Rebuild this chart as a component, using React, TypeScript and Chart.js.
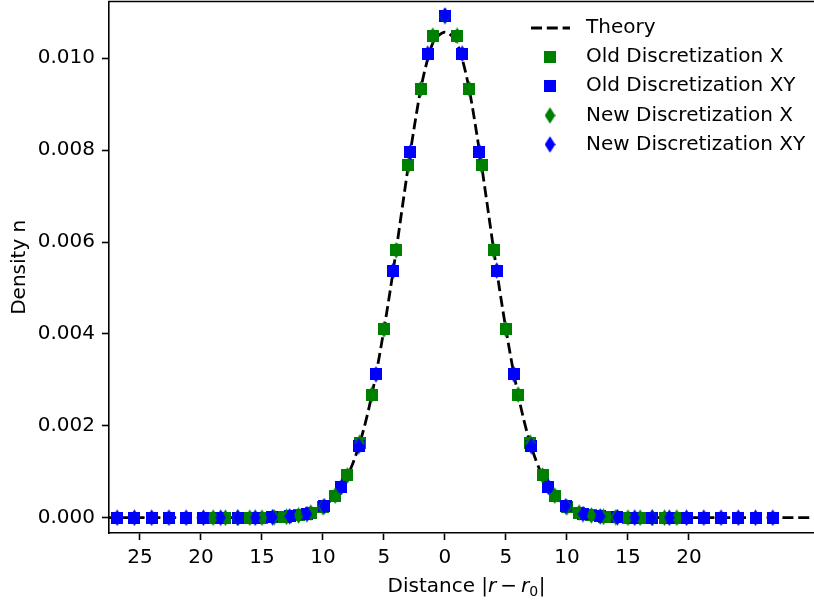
import React, { useEffect, useRef } from "react";
import { Chart, registerables } from "chart.js";

Chart.register(...registerables);

const FONT = "'DejaVu Sans', sans-serif";

const xTickValues = [-25, -20, -15, -10, -5, 0, 5, 10, 15, 20];
const yTickValues = [0, 0.002, 0.004, 0.006, 0.008, 0.01];

const theoryDistance = [
  -32, -20, -16, -14, -13, -12, -11, -10, -9, -8, -7.5, -7, -6.5, -6, -5.5, -5, -4.5, -4, -3.5, -3, -2.5, -2,
  -1.5, -1, -0.5, 0, 0.5, 1, 1.5, 2, 2.5, 3, 3.5, 4, 4.5, 5, 5.5, 6, 6.5, 7, 7.5, 8, 9, 10, 11, 12, 13, 14, 16,
  20, 32,
];
const theoryDensity = [
  0, 0, 0.000002, 0.00001, 0.00002, 0.00005, 0.00011, 0.00024, 0.00048, 0.00091, 0.00122, 0.00161, 0.00209,
  0.00267, 0.00334, 0.0041, 0.00493, 0.00582, 0.00675, 0.00767, 0.00853, 0.00931, 0.0099, 0.01033, 0.0105,
  0.01057, 0.0105, 0.01033, 0.0099, 0.00931, 0.00853, 0.00767, 0.00675, 0.00582, 0.00493, 0.0041, 0.00334,
  0.00267, 0.00209, 0.00161, 0.00122, 0.00091, 0.00048, 0.00024, 0.00011, 0.00005, 0.00002, 0.00001, 0.000002,
  0, 0,
];

const distanceX = [
  -19, -18, -17, -16, -15, -14, -13, -12, -11, -10, -9, -8, -7, -6, -5, -4, -3, -2, -1, 0, 1, 2, 3, 4, 5, 6, 7, 8,
  9, 10, 11, 12, 13, 14, 15, 16, 17, 18, 19,
];
const distanceXY = [
  -26.87, -25.456, -24.042, -22.627, -21.213, -19.799, -18.385, -16.971, -15.556, -14.142, -12.728, -11.314,
  -9.899, -8.485, -7.071, -5.657, -4.243, -2.828, -1.414, 0, 1.414, 2.828, 4.243, 5.657, 7.071, 8.485, 9.899,
  11.314, 12.728, 14.142, 15.556, 16.971, 18.385, 19.799, 21.213, 22.627, 24.042, 25.456, 26.87,
];

const oldDensityX = [
  0, 0, 0, 0, 0, 0.00001, 0.00002, 0.00005, 0.00011, 0.00023, 0.00048, 0.00092, 0.00163, 0.00268, 0.0041,
  0.00582, 0.00767, 0.00933, 0.01049, 0.01092, 0.01049, 0.00933, 0.00767, 0.00582, 0.0041, 0.00268, 0.00163,
  0.00092, 0.00048, 0.00023, 0.00011, 0.00005, 0.00002, 0.00001, 0, 0, 0, 0, 0,
];
const oldDensityXY = [
  0, 0, 0, 0, 0, 0, 0, 0, 0, 0.00001, 0.00003, 0.00008, 0.00025, 0.00067, 0.00156, 0.00312, 0.00538, 0.00796,
  0.0101, 0.01093, 0.0101, 0.00796, 0.00538, 0.00312, 0.00156, 0.00067, 0.00025, 0.00008, 0.00003, 0.00001, 0,
  0, 0, 0, 0, 0, 0, 0, 0,
];
const newDensityX = [
  0, 0, 0, 0, 0, 0.00001, 0.00002, 0.00005, 0.00011, 0.00023, 0.00048, 0.00092, 0.00163, 0.00268, 0.0041,
  0.00582, 0.00767, 0.00933, 0.01049, 0.01092, 0.01049, 0.00933, 0.00767, 0.00582, 0.0041, 0.00268, 0.00163,
  0.00092, 0.00048, 0.00023, 0.00011, 0.00005, 0.00002, 0.00001, 0, 0, 0, 0, 0,
];
const newDensityXY = [
  0, 0, 0, 0, 0, 0, 0, 0, 0, 0.00001, 0.00003, 0.00008, 0.00025, 0.00067, 0.00156, 0.00312, 0.00538, 0.00796,
  0.0101, 0.01093, 0.0101, 0.00796, 0.00538, 0.00312, 0.00156, 0.00067, 0.00025, 0.00008, 0.00003, 0.00001, 0,
  0, 0, 0, 0, 0, 0, 0, 0,
];

const seriesLabels = [
  "Theory",
  "Old Discretization X",
  "Old Discretization XY",
  "New Discretization X",
  "New Discretization XY",
];

const GREEN = "#008000";
const BLUE = "#0000ff";

function zip(xs: number[], ys: number[]) {
  return xs.map((x, i) => ({ x, y: ys[i] }));
}

function makeSquare(color: string) {
  const c = document.createElement("canvas");
  c.width = 12;
  c.height = 12;
  const g = c.getContext("2d")!;
  g.fillStyle = color;
  g.fillRect(0, 0, 12, 12);
  return c;
}

function makeThinDiamond(color: string) {
  const c = document.createElement("canvas");
  c.width = 11;
  c.height = 17;
  const g = c.getContext("2d")!;
  g.fillStyle = color;
  g.beginPath();
  g.moveTo(5.5, 0.2);
  g.lineTo(10.8, 8.5);
  g.lineTo(5.5, 16.8);
  g.lineTo(0.2, 8.5);
  g.closePath();
  g.fill();
  return c;
}

const decorPlugin = {
  id: "decor",
  afterDraw(chart: any) {
    const ctx = chart.ctx as CanvasRenderingContext2D;
    const area = chart.chartArea;
    ctx.save();
    // top & right spines
    ctx.strokeStyle = "#000";
    ctx.lineWidth = 1.6;
    ctx.beginPath();
    ctx.moveTo(area.left - 0.8, area.top);
    ctx.lineTo(area.right, area.top);
    ctx.lineTo(area.right, area.bottom);
    ctx.stroke();

    // legend
    const rows = [28, 57, 86, 115.5, 144.5];
    const markerX = 550;
    const textX = 586;
    ctx.font = `20px ${FONT}`;
    ctx.textBaseline = "middle";
    ctx.textAlign = "left";
    chart.data.datasets.forEach((ds: any, i: number) => {
      const y = rows[i];
      if (i === 0) {
        ctx.save();
        ctx.strokeStyle = ds.borderColor;
        ctx.lineWidth = ds.borderWidth;
        ctx.setLineDash(ds.borderDash);
        ctx.beginPath();
        ctx.moveTo(531, y);
        ctx.lineTo(570, y);
        ctx.stroke();
        ctx.restore();
      } else {
        const img = ds.pointStyle as HTMLCanvasElement;
        ctx.drawImage(img, markerX - img.width / 2, y - img.height / 2);
      }
      ctx.fillStyle = "#000";
      ctx.fillText(ds.label, textX, y);
    });

    // x-axis title: Distance |r − r0|
    const normal = `20px ${FONT}`;
    const italic = `italic 20px ${FONT}`;
    const small = `14px ${FONT}`;
    const pieces = [
      { t: "Distance ", f: normal, dy: 0, gap: 0 },
      { t: "|", f: normal, dy: 0, gap: 0 },
      { t: "r", f: italic, dy: 0, gap: 4 },
      { t: "\u2212", f: normal, dy: 0, gap: 4 },
      { t: "r", f: italic, dy: 0, gap: 0 },
      { t: "0", f: small, dy: 4, gap: 0.5 },
      { t: "|", f: normal, dy: 0, gap: 0 },
    ];
    let total = 0;
    const widths = pieces.map((p) => {
      ctx.font = p.f;
      const w = ctx.measureText(p.t).width;
      total += w + p.gap;
      return w;
    });
    let cx = (area.left + area.right) / 2 - total / 2;
    const baseY = 591.5;
    ctx.textBaseline = "alphabetic";
    ctx.fillStyle = "#000";
    pieces.forEach((p, i) => {
      ctx.font = p.f;
      ctx.fillText(p.t, cx, baseY + p.dy);
      cx += widths[i] + p.gap;
    });
    ctx.restore();
  },
};

export default function App() {
  const canvasRef = useRef<HTMLCanvasElement | null>(null);

  useEffect(() => {
    const canvas = canvasRef.current;
    if (!canvas) return;
    const sqGreen = makeSquare(GREEN);
    const sqBlue = makeSquare(BLUE);
    const diGreen = makeThinDiamond(GREEN);
    const diBlue = makeThinDiamond(BLUE);

    const markerDataset = (label: string, xs: number[], ys: number[], style: HTMLCanvasElement, order: number) => ({
      label,
      data: zip(xs, ys),
      showLine: false,
      pointStyle: style,
      pointRadius: 6,
      pointHoverRadius: 6,
      order,
    });

    const chart = new Chart(canvas, {
      type: "scatter",
      data: {
        datasets: [
          {
            label: seriesLabels[0],
            data: zip(theoryDistance, theoryDensity),
            showLine: true,
            borderColor: "#000",
            borderWidth: 2.8,
            borderDash: [11, 4.8],
            pointRadius: 0,
            pointHoverRadius: 0,
            cubicInterpolationMode: "monotone",
            fill: false,
            order: 5,
          } as any,
          markerDataset(seriesLabels[1], distanceX, oldDensityX, sqGreen, 4),
          markerDataset(seriesLabels[2], distanceXY, oldDensityXY, sqBlue, 3),
          markerDataset(seriesLabels[3], distanceX, newDensityX, diGreen, 2),
          markerDataset(seriesLabels[4], distanceXY, newDensityXY, diBlue, 1),
        ],
      },
      options: {
        animation: false,
        responsive: false,
        maintainAspectRatio: false,
        devicePixelRatio: 1,
        layout: { autoPadding: false, padding: { top: 1.5, left: 0, right: 6, bottom: 0 } },
        plugins: {
          legend: { display: false },
          tooltip: { enabled: false },
        },
        events: [],
        scales: {
          x: {
            type: "linear",
            min: -27.54,
            max: 31.07,
            afterBuildTicks: (s: any) => {
              s.ticks = xTickValues.map((v) => ({ value: v }));
            },
            afterFit: (s: any) => {
              s.height = 67;
              s.paddingLeft = 0;
              s.paddingRight = 0;
            },
            ticks: {
              callback: (v: any) => String(Math.abs(Number(v))),
              font: { family: FONT, size: 20 },
              color: "#000",
              padding: 6,
              maxRotation: 0,
              autoSkip: false,
            },
            grid: {
              drawOnChartArea: false,
              drawTicks: true,
              tickLength: 7,
              tickWidth: 1.6,
              tickColor: "#000",
              color: "#000",
            },
            border: { display: true, color: "#000", width: 1.6 },
          },
          y: {
            type: "linear",
            min: -0.000333,
            max: 0.011236,
            afterBuildTicks: (s: any) => {
              s.ticks = yTickValues.map((v) => ({ value: v }));
            },
            afterFit: (s: any) => {
              s.width = 109;
              s.paddingTop = 0;
              s.paddingBottom = 0;
            },
            ticks: {
              callback: (v: any) => Number(v).toFixed(3),
              font: { family: FONT, size: 20 },
              color: "#000",
              padding: 7,
              autoSkip: false,
            },
            grid: {
              drawOnChartArea: false,
              drawTicks: true,
              tickLength: 7,
              tickWidth: 1.6,
              tickColor: "#000",
              color: "#000",
            },
            border: { display: true, color: "#000", width: 1.6 },
            title: {
              display: true,
              text: "Density n",
              font: { family: FONT, size: 20 },
              color: "#000",
              padding: { top: 8, bottom: 0 },
            },
          },
        },
      },
      plugins: [decorPlugin],
    } as any);

    return () => chart.destroy();
  }, []);

  return (
    <div
      style={{
        position: "fixed",
        left: 0,
        top: 0,
        width: 814,
        height: 600,
        overflow: "hidden",
        background: "#fff",
      }}
    >
      <canvas ref={canvasRef} width={830} height={600} style={{ display: "block", width: 830, height: 600 }} />
    </div>
  );
}
